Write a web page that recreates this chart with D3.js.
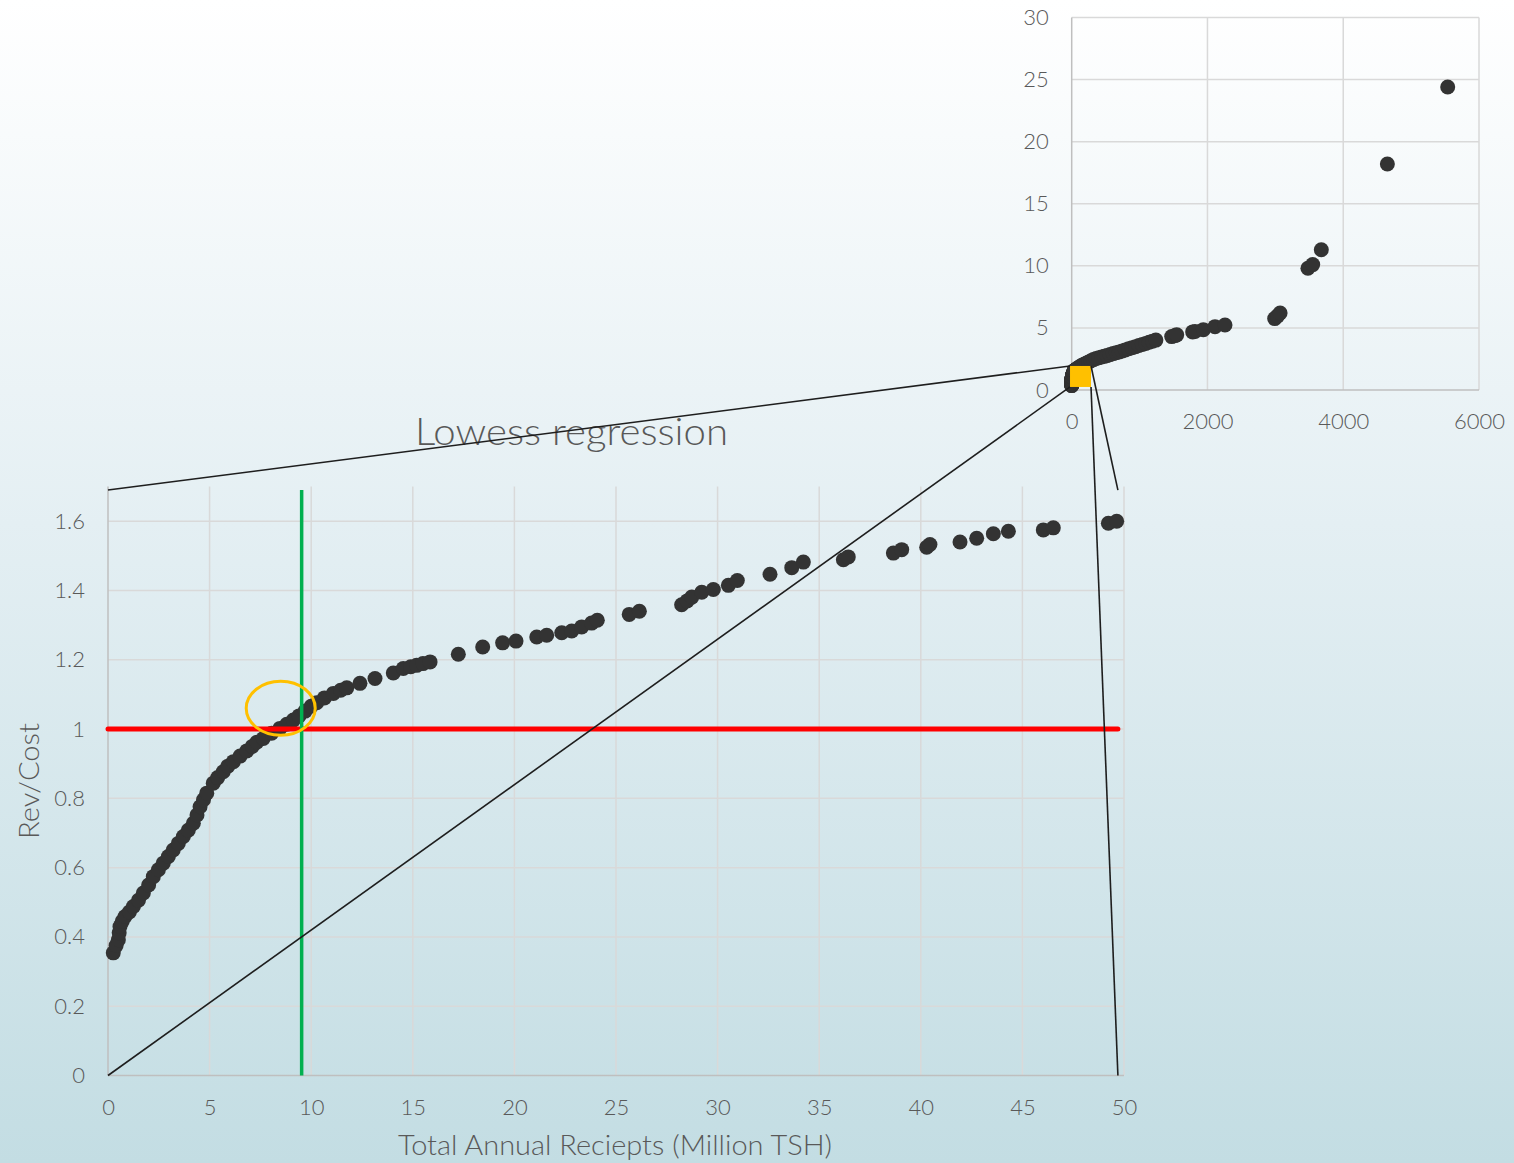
<!DOCTYPE html>
<html>
<head>
<meta charset="utf-8">
<script src="https://cdn.jsdelivr.net/npm/d3@7"></script>
<style>
  html, body { margin: 0; padding: 0; overflow: hidden; }
  svg { display: block; }
</style>
</head>
<body>
<svg id="chart" width="1514" height="1163"></svg>
<script>
// ---- Data: revenue/cost ratio against total annual receipts (million TSH) ----
// Schemes with receipts up to 50 million (shown in the detailed lower chart and in the overview)
const receipts = [0.26, 0.40, 0.51, 0.55, 0.59, 0.70, 0.84, 1.05, 1.25, 1.50, 1.74, 2.00, 2.23, 2.48, 2.72,
  2.97, 3.21, 3.46, 3.71, 3.95, 4.20, 4.38, 4.53, 4.70, 4.86, 5.18, 5.40, 5.67, 5.90, 6.17, 6.50, 6.83,
  7.10, 7.32, 7.64, 8.05, 8.46, 8.80, 9.12, 9.40, 9.70, 10.00, 10.27, 10.65, 11.09, 11.45, 11.75, 12.40,
  13.14, 14.04, 14.53, 14.90, 15.19, 15.50, 15.85, 17.24, 18.44, 19.42, 20.08, 21.10, 21.59, 22.33,
  22.82, 23.31, 23.80, 24.08, 25.65, 26.15, 28.23, 28.50, 28.73, 29.22, 29.79, 30.53, 30.97, 32.58,
  33.65, 34.22, 36.19, 36.43, 38.65, 39.06, 40.29, 40.45, 41.93, 42.75, 43.57, 44.31, 46.03, 46.52,
  49.23, 49.64];
const revCost = [0.354, 0.375, 0.392, 0.412, 0.430, 0.445, 0.459, 0.472, 0.488, 0.506, 0.527, 0.550,
  0.574, 0.594, 0.613, 0.632, 0.651, 0.670, 0.690, 0.708, 0.728, 0.752, 0.776, 0.796, 0.815, 0.844,
  0.860, 0.877, 0.893, 0.906, 0.922, 0.937, 0.950, 0.962, 0.973, 0.988, 1.002, 1.014, 1.026, 1.038,
  1.052, 1.066, 1.076, 1.090, 1.103, 1.112, 1.119, 1.132, 1.146, 1.162, 1.175, 1.180, 1.184, 1.189,
  1.194, 1.216, 1.237, 1.249, 1.254, 1.266, 1.271, 1.278, 1.283, 1.295, 1.306, 1.314, 1.331, 1.340,
  1.359, 1.370, 1.381, 1.395, 1.403, 1.415, 1.429, 1.447, 1.466, 1.482, 1.489, 1.497, 1.508, 1.518,
  1.525, 1.533, 1.540, 1.551, 1.564, 1.571, 1.575, 1.581, 1.594, 1.600];

// Larger schemes, only visible in the overview chart
const bigReceipts = [55, 70, 85, 100, 120, 140, 165, 190, 220, 250, 285, 320, 360, 400, 440, 480, 520,
  565, 610, 655, 700, 745, 790, 840, 890, 940, 990, 1040, 1090, 1140, 1190, 1240, 1473, 1522, 1547,
  1782, 1816, 1939, 2111, 2258, 2990, 3030, 3070, 3480, 3550, 3677, 4650, 5539];
const bigRevCost = [1.62, 1.68, 1.74, 1.80, 1.88, 1.95, 2.02, 2.10, 2.18, 2.26, 2.36, 2.45, 2.54, 2.60,
  2.66, 2.71, 2.77, 2.85, 2.93, 3.00, 3.07, 3.15, 3.23, 3.33, 3.41, 3.49, 3.58, 3.66, 3.75, 3.84, 3.93,
  4.02, 4.30, 4.38, 4.44, 4.68, 4.72, 4.86, 5.10, 5.24, 5.75, 5.95, 6.20, 9.80, 10.10, 11.30, 18.20, 24.40];

// Axis ticks
const mainXTicks = [0, 5, 10, 15, 20, 25, 30, 35, 40, 45, 50];
const mainYTicks = [0, 0.2, 0.4, 0.6, 0.8, 1, 1.2, 1.4, 1.6];
const mainYTickLabels = ["0", "0.2", "0.4", "0.6", "0.8", "1", "1.2", "1.4", "1.6"];
const overviewXTicks = [0, 2000, 4000, 6000];
const overviewYTicks = [0, 5, 10, 15, 20, 25, 30];

// Annotations
const breakEvenRatio = 1;          // revenue equals cost
const breakEvenReceipts = 9.53;    // receipts where the lowess curve crosses 1
const crossingPoint = [8.5, 1.06]; // highlighted crossing
const zoomCentre = [130, 1.09];    // region of the overview shown in detail below
const detailCorners = [[0, 1.69], [0, 0], [49.7, 1.69], [49.7, 0]];

const mainPts = receipts.map((x, i) => [x, revCost[i]]);
const allPts = mainPts.concat(bigReceipts.map((x, i) => [x, bigRevCost[i]]));

// ---- Layout ----
const svg = d3.select("#chart");
const W = 1514, H = 1163;
const textCol = "#595959", gridCol = "#d9d9d9", axisCol = "#bfbfbf", dotCol = "#333333";
const font = "Lato, 'Open Sans', sans-serif";
const weight = 300;

// background wash
const defs = svg.append("defs");
const grad = defs.append("linearGradient").attr("id", "bg")
  .attr("x1", 0).attr("y1", 0).attr("x2", 0).attr("y2", 1);
grad.append("stop").attr("offset", "0%").attr("stop-color", "#ffffff");
grad.append("stop").attr("offset", "45%").attr("stop-color", "#e4eff3");
grad.append("stop").attr("offset", "100%").attr("stop-color", "#c3dde3");
svg.append("rect").attr("width", W).attr("height", H).attr("fill", "url(#bg)");

// Scales
const xMain = d3.scaleLinear().domain([0, 50]).range([108, 1124]);
const yMain = d3.scaleLinear().domain([0, 1.7]).range([1075.5, 486.6]);
const xOv = d3.scaleLinear().domain([0, 6000]).range([1071.7, 1479]);
const yOv = d3.scaleLinear().domain([0, 30]).range([390, 17.5]);

// ---- Overview chart (all schemes) ----
const ov = svg.append("g");
ov.append("g").selectAll("line").data(overviewYTicks.slice(1)).join("line")
  .attr("x1", xOv(0)).attr("x2", xOv(6000)).attr("y1", d => yOv(d)).attr("y2", d => yOv(d))
  .attr("stroke", gridCol).attr("stroke-width", 1.5);
ov.append("g").selectAll("line").data(overviewXTicks.slice(1)).join("line")
  .attr("x1", d => xOv(d)).attr("x2", d => xOv(d)).attr("y1", yOv(0)).attr("y2", yOv(30))
  .attr("stroke", gridCol).attr("stroke-width", 1.5);
ov.append("line").attr("x1", xOv(0)).attr("x2", xOv(6000)).attr("y1", yOv(0)).attr("y2", yOv(0))
  .attr("stroke", axisCol).attr("stroke-width", 1.5);
ov.append("line").attr("x1", xOv(0)).attr("x2", xOv(0)).attr("y1", yOv(0)).attr("y2", yOv(30))
  .attr("stroke", axisCol).attr("stroke-width", 1.5);

const ovX = ov.append("g").attr("transform", `translate(0,${yOv(0)})`)
  .call(d3.axisBottom(xOv).tickValues(overviewXTicks).tickFormat(d3.format("d")).tickSize(0).tickPadding(23));
const ovY = ov.append("g").attr("transform", `translate(${xOv(0)},0)`)
  .call(d3.axisLeft(yOv).tickValues(overviewYTicks).tickFormat(d3.format("d")).tickSize(0).tickPadding(23));
[ovX, ovY].forEach(a => {
  a.select(".domain").remove();
  a.selectAll("text").attr("fill", textCol).style("font-family", font)
    .style("font-weight", weight).style("font-size", "22px");
});

ov.append("g").selectAll("circle").data(allPts).join("circle")
  .attr("cx", d => xOv(d[0])).attr("cy", d => yOv(d[1])).attr("r", 7.5).attr("fill", dotCol);

// highlighted detail region
const sq = 21;
ov.append("rect")
  .attr("x", xOv(zoomCentre[0]) - sq / 2).attr("y", yOv(zoomCentre[1]) - sq / 2)
  .attr("width", sq).attr("height", sq).attr("fill", "#ffc000");

// ---- Detail chart (receipts up to 50 million) ----
const mg = svg.append("g");
mg.append("g").selectAll("line").data(mainYTicks.slice(1)).join("line")
  .attr("x1", xMain(0)).attr("x2", xMain(50)).attr("y1", d => yMain(d)).attr("y2", d => yMain(d))
  .attr("stroke", gridCol).attr("stroke-width", 1.5);
mg.append("g").selectAll("line").data(mainXTicks.slice(1)).join("line")
  .attr("x1", d => xMain(d)).attr("x2", d => xMain(d)).attr("y1", yMain(0)).attr("y2", yMain(1.7))
  .attr("stroke", gridCol).attr("stroke-width", 1.5);
mg.append("line").attr("x1", xMain(0)).attr("x2", xMain(50)).attr("y1", yMain(0)).attr("y2", yMain(0))
  .attr("stroke", axisCol).attr("stroke-width", 1.5);
mg.append("line").attr("x1", xMain(0)).attr("x2", xMain(0)).attr("y1", yMain(0)).attr("y2", yMain(1.7))
  .attr("stroke", axisCol).attr("stroke-width", 1.5);

const mX = mg.append("g").attr("transform", `translate(0,${yMain(0)})`)
  .call(d3.axisBottom(xMain).tickValues(mainXTicks).tickFormat(d3.format("d")).tickSize(0).tickPadding(24));
const mY = mg.append("g").attr("transform", `translate(${xMain(0)},0)`)
  .call(d3.axisLeft(yMain).tickValues(mainYTicks).tickFormat((d, i) => mainYTickLabels[i]).tickSize(0).tickPadding(23));
[mX, mY].forEach(a => {
  a.select(".domain").remove();
  a.selectAll("text").attr("fill", textCol).style("font-family", font)
    .style("font-weight", weight).style("font-size", "22px");
});

mg.append("g").selectAll("circle").data(mainPts).join("circle")
  .attr("cx", d => xMain(d[0])).attr("cy", d => yMain(d[1])).attr("r", 7.5).attr("fill", dotCol);

// break-even line (revenue = cost)
mg.append("line")
  .attr("x1", xMain(0)).attr("x2", xMain(49.7))
  .attr("y1", yMain(breakEvenRatio)).attr("y2", yMain(breakEvenRatio))
  .attr("stroke", "#ff0000").attr("stroke-width", 5).attr("stroke-linecap", "round");

// receipts needed to break even
mg.append("line")
  .attr("x1", xMain(breakEvenReceipts)).attr("x2", xMain(breakEvenReceipts))
  .attr("y1", yMain(0)).attr("y2", yMain(1.69))
  .attr("stroke", "#00b050").attr("stroke-width", 3.5);

mg.append("ellipse")
  .attr("cx", xMain(crossingPoint[0])).attr("cy", yMain(crossingPoint[1]))
  .attr("rx", 34.5).attr("ry", 27)
  .attr("fill", "none").attr("stroke", "#ffc000").attr("stroke-width", 3);

// Titles
svg.append("text").attr("x", 571.5).attr("y", 445).attr("text-anchor", "middle")
  .attr("fill", textCol).style("font-family", font).style("font-weight", weight).style("font-size", "38px")
  .attr("textLength", 313).attr("lengthAdjust", "spacingAndGlyphs")
  .text("Lowess regression");
svg.append("text").attr("x", 615).attr("y", 1155).attr("text-anchor", "middle")
  .attr("fill", textCol).style("font-family", font).style("font-weight", weight).style("font-size", "27px")
  .attr("textLength", 434).attr("lengthAdjust", "spacingAndGlyphs")
  .text("Total Annual Reciepts (Million TSH)");
svg.append("text").attr("transform", "translate(39,781) rotate(-90)").attr("text-anchor", "middle")
  .attr("fill", textCol).style("font-family", font).style("font-weight", weight).style("font-size", "27px")
  .attr("textLength", 116).attr("lengthAdjust", "spacingAndGlyphs")
  .text("Rev/Cost");

// Connector lines from the highlighted overview region to the detail chart corners
const h = sq / 2;
const boxCorners = [[-h, -h], [-h, h], [h, -h], [h, h]];
svg.append("g").selectAll("line").data(detailCorners).join("line")
  .attr("x1", d => xMain(d[0])).attr("y1", d => yMain(d[1]))
  .attr("x2", (d, i) => xOv(zoomCentre[0]) + boxCorners[i][0])
  .attr("y2", (d, i) => yOv(zoomCentre[1]) + boxCorners[i][1])
  .attr("stroke", "#1e1e1e").attr("stroke-width", 1.6);
</script>
</body>
</html>
